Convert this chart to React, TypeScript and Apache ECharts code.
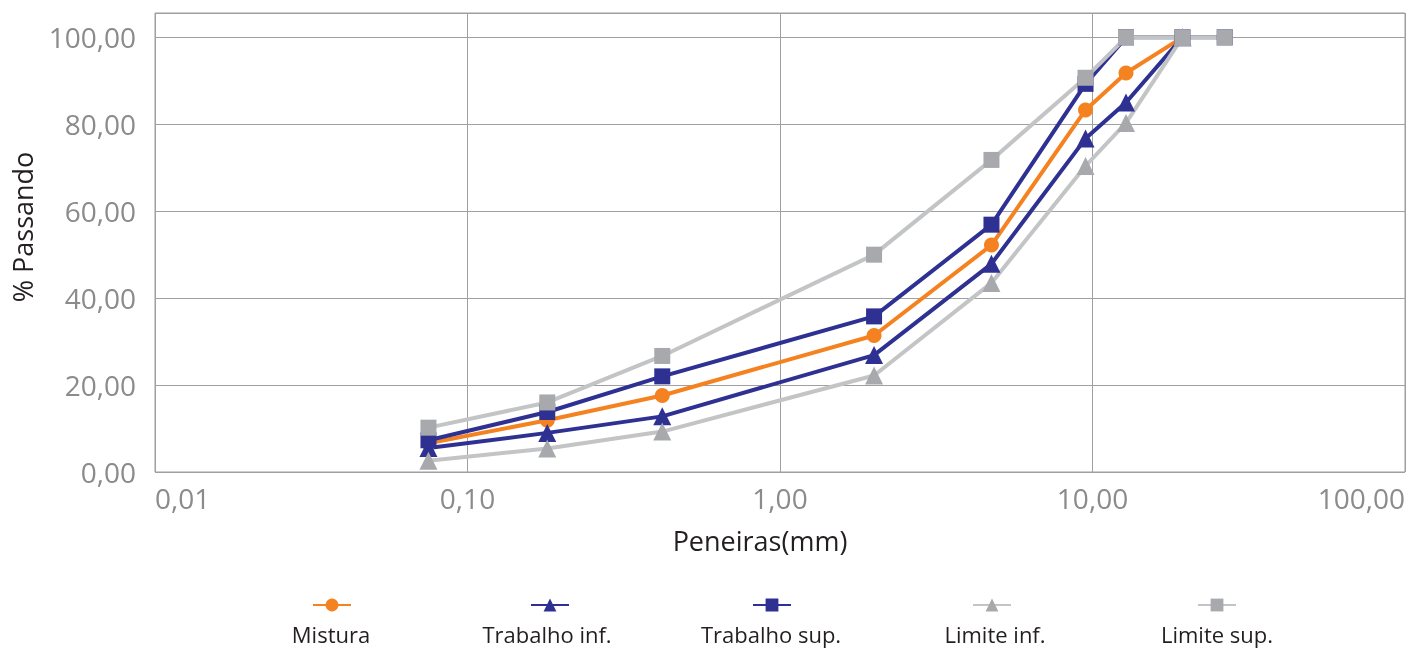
import React, { useEffect, useRef } from "react";
import * as echarts from "echarts";

const sieves = [0.075, 0.18, 0.42, 2.0, 4.75, 9.5, 12.8, 19.4, 26.5];
const mistura = [6.6, 11.9, 17.6, 31.4, 52.2, 83.3, 91.8, 100];
const trabalhoInf = [5.5, 9.0, 12.8, 26.9, 47.9, 76.7, 85.0, 100];
const trabalhoSup = [7.3, 13.8, 22.0, 35.8, 56.9, 89.3, 100, 100, 100];
const limiteInf = [2.6, 5.4, 9.3, 22.2, 43.5, 70.4, 80.3, 100];
const limiteSup = [10.2, 16.0, 26.7, 50.0, 71.8, 90.7, 100, 100, 100];

const seriesNames = ["Mistura", "Trabalho inf.", "Trabalho sup.", "Limite inf.", "Limite sup."];
const xTitle = "Peneiras(mm)";
const yTitle = "% Passando";

const FONT = "'Open Sans', sans-serif";

function pts(vals: number[]) {
  return vals.map((v, i) => [sieves[i], v]);
}

function fmt(v: number) {
  return Number(v).toFixed(2).replace(".", ",");
}

export default function App() {
  const ref = useRef<HTMLDivElement>(null);
  useEffect(() => {
    if (!ref.current) return;
    const chart = echarts.init(ref.current, undefined, { renderer: "svg" });
    const orange = "#f58220";
    const navy = "#2e3192";
    const grayM = "#a7a9ac";
    const grayL = "#c3c4c6";
    const defs = [
      { name: seriesNames[0], data: mistura, symbol: "circle", size: 15, color: orange, line: orange },
      { name: seriesNames[1], data: trabalhoInf, symbol: "triangle", size: 18, color: navy, line: navy },
      { name: seriesNames[2], data: trabalhoSup, symbol: "rect", size: 16, color: navy, line: navy },
      { name: seriesNames[3], data: limiteInf, symbol: "triangle", size: 18, color: grayM, line: grayL },
      { name: seriesNames[4], data: limiteSup, symbol: "rect", size: 16, color: grayM, line: grayL },
    ];
    const legendCx = [331, 549, 771, 991, 1216];
    const legendTextCx = [331, 547, 771, 995, 1217];
    const legends = defs.map((d, i) => ({
      data: [d.name],
      left: legendCx[i] - 19,
      top: 597,
      itemWidth: 38,
      itemHeight: 16,
      padding: 0,
      formatter: () => "",
      selectedMode: false,
      textStyle: { fontSize: 1 },
    }));
    const legendTexts = defs.map((d, i) => ({
      type: "text",
      x: legendTextCx[i],
      y: 634,
      style: {
        text: d.name,
        fill: "#231f20",
        font: `22px ${FONT}`,
        align: "center",
        verticalAlign: "middle",
        textAlign: "center",
        textVerticalAlign: "middle",
      },
    }));
    chart.setOption({
      animation: false,
      grid: {
        left: 155,
        right: 19,
        top: 13,
        bottom: 178,
        show: true,
        borderColor: "#9d9d9d",
        borderWidth: 1,
        containLabel: false,
        outerBoundsMode: "none",
      },
      legend: legends,
      xAxis: {
        type: "log",
        logBase: 10,
        min: 0.01,
        max: 100,
        axisLine: { show: false },
        axisTick: { show: false },
        splitLine: { show: true, lineStyle: { color: "#a0a0a0", width: 1 } },
        axisLabel: {
          color: "#8b8b8d",
          fontSize: 28,
          fontFamily: FONT,
          margin: 12,
          alignMinLabel: "left",
          alignMaxLabel: "right",
          formatter: (v: number) => fmt(v),
        },
      },
      yAxis: {
        type: "value",
        min: 0,
        max: 105.6,
        interval: 20,
        axisLine: { show: false },
        axisTick: { show: false },
        splitLine: { show: true, lineStyle: { color: "#a0a0a0", width: 1 } },
        axisLabel: {
          color: "#8b8b8d",
          fontSize: 28,
          fontFamily: FONT,
          margin: 19,
          showMaxLabel: false,
          padding: [0, 0, 10, 0],
          formatter: (v: number) => (v > 100.5 ? "" : fmt(v)),
        },
      },
      graphic: [
        {
          type: "text",
          x: 760,
          y: 540,
          style: {
            text: xTitle,
            fill: "#231f20",
            font: `27px ${FONT}`,
            align: "center",
            verticalAlign: "middle",
            textAlign: "center",
            textVerticalAlign: "middle",
          },
        },
        {
          type: "text",
          x: 22,
          y: 227,
          rotation: Math.PI / 2,
          style: {
            text: yTitle,
            fill: "#231f20",
            font: `27px ${FONT}`,
            align: "center",
            verticalAlign: "middle",
            textAlign: "center",
            textVerticalAlign: "middle",
          },
        },
        ...legendTexts,
      ],
      series: defs.map((d) => ({
        name: d.name,
        type: "line",
        data: pts(d.data),
        symbol: d.symbol,
        symbolSize: d.size,
        itemStyle: { color: d.color },
        lineStyle: { color: d.line, width: 4 },
        z: 2,
      })),
    });
    return () => chart.dispose();
  }, []);
  return (
    <div
      ref={ref}
      style={{ position: "fixed", left: 0, top: 0, width: 1424, height: 650 }}
    />
  );
}
